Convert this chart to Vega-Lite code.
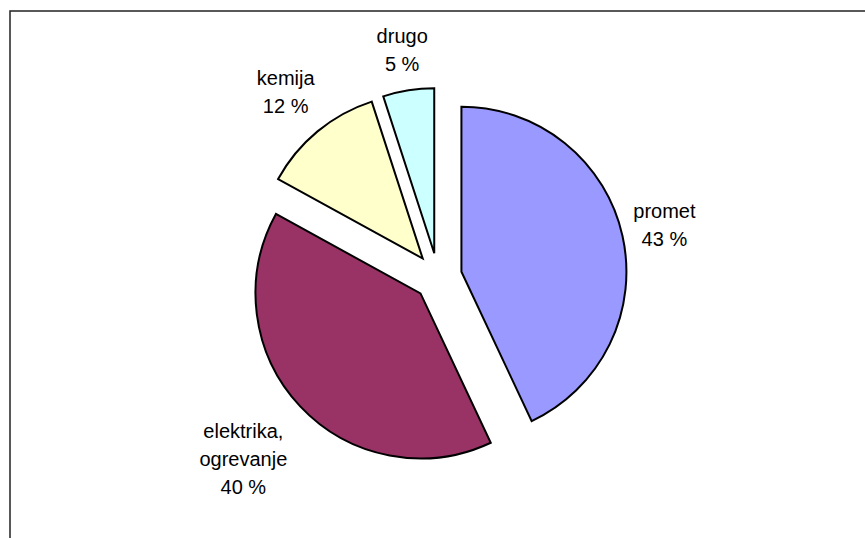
{
  "$schema": "https://vega.github.io/schema/vega-lite/v6.json",
  "width": 856,
  "height": 532,
  "padding": {"left": 10, "top": 11, "right": 0, "bottom": 0},
  "autosize": {"type": "none"},
  "background": "white",
  "config": {"view": {"stroke": null}},
  "data": {
    "values": [
      {"ord": 1, "cat": "promet", "label": "promet", "value": 43},
      {"ord": 2, "cat": "elektrika, ogrevanje", "label": "elektrika,\nogrevanje", "value": 40},
      {"ord": 3, "cat": "kemija", "label": "kemija", "value": 12},
      {"ord": 4, "cat": "drugo", "label": "drugo", "value": 5}
    ]
  },
  "transform": [
    {"calculate": "datum.label + '\\n' + datum.value + ' %'", "as": "txt"}
  ],
  "layer": [
    {
      "data": {"values": [{"frame": 1}]},
      "mark": {"type": "rect", "fill": null, "stroke": "#222222", "strokeWidth": 1.5},
      "encoding": {}
    },
    {
      "mark": {
        "type": "arc",
        "outerRadius": 165,
        "stroke": "black",
        "strokeWidth": 2,
        "xOffset": {"expr": "24*sin(PI*(datum.value_start+datum.value_end)/100)"},
        "yOffset": {"expr": "-24*cos(PI*(datum.value_start+datum.value_end)/100)"}
      },
      "encoding": {
        "theta": {"field": "value", "type": "quantitative", "stack": true},
        "order": {"field": "ord", "type": "quantitative"},
        "color": {
          "field": "cat",
          "type": "nominal",
          "scale": {
            "domain": ["promet", "elektrika, ogrevanje", "kemija", "drugo"],
            "range": ["#9999FF", "#993366", "#FFFFCC", "#CCFFFF"]
          },
          "legend": null
        }
      }
    },
    {
      "mark": {
        "type": "text",
        "font": "Liberation Sans",
        "fontSize": 20,
        "lineHeight": 28,
        "lineBreak": "\n",
        "align": "center",
        "baseline": "middle",
        "color": "black",
        "radius": {"expr": "datum.ord == 2 ? 267 : datum.ord == 3 ? 239 : datum.ord == 4 ? 229 : 232"},
        "dy": {"expr": "-14*(length(split(datum.txt, '\\n')) - 1)"}
      },
      "encoding": {
        "theta": {"field": "value", "type": "quantitative", "stack": true},
        "order": {"field": "ord", "type": "quantitative"},
        "detail": {"field": "cat", "type": "nominal"},
        "text": {"field": "txt", "type": "nominal"}
      }
    }
  ]
}
